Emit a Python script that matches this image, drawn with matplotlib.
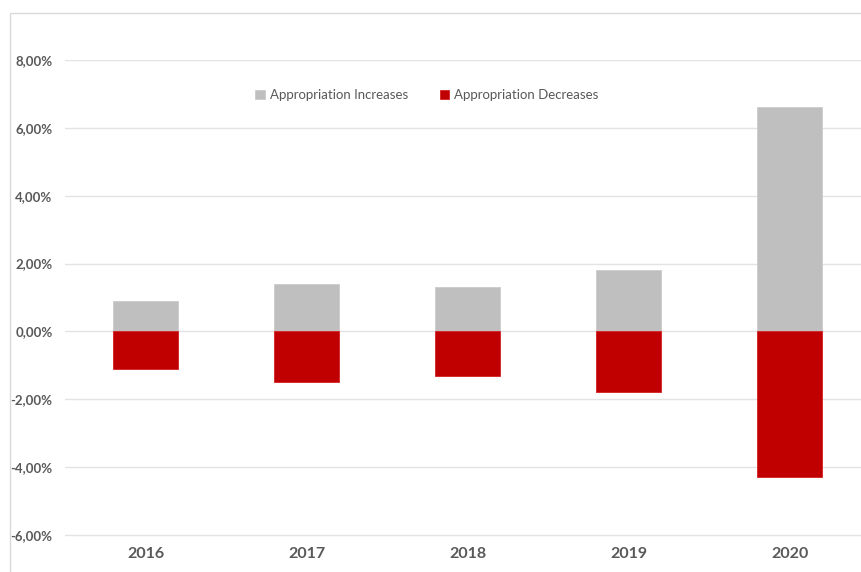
import matplotlib.pyplot as plt
from matplotlib.patches import Rectangle
from matplotlib.ticker import FuncFormatter

years = ['2016', '2017', '2018', '2019', '2020']
increases = [0.9, 1.4, 1.3, 1.8, 6.6]
decreases = [-1.1, -1.5, -1.3, -1.8, -4.3]
yticks = [-6, -4, -2, 0, 2, 4, 6, 8]

plt.rcParams['font.family'] = ['Lato', 'DejaVu Sans']
txt = '#595959'

fig = plt.figure(figsize=(8.62, 5.72), dpi=100)
# outer chart frame (cut off at the right and bottom, like the screenshot)
fig.patches.append(Rectangle((10 / 862, -0.1), 1.0, 1 - 13 / 572 + 0.1,
                             transform=fig.transFigure, fill=False,
                             edgecolor='#d9d9d9', linewidth=1))

ax = fig.add_axes([65 / 862, 1 - 537 / 572, 805 / 862, 477 / 572])
x = range(len(years))
ax.bar(x, increases, width=0.4, color='#bfbfbf', edgecolor='#cccccc',
       linewidth=0.6, label='Appropriation Increases', zorder=3)
ax.bar(x, decreases, width=0.4, color='#c00000', edgecolor='#d42020',
       linewidth=0.6, label='Appropriation Decreases', zorder=3)

ax.set_xlim(-0.5, 4.5)
ax.set_ylim(-6.06, 8)
ax.set_yticks(yticks)
ax.yaxis.set_major_formatter(FuncFormatter(lambda v, p: f'{v:.2f}%'.replace('.', ',')))
ax.set_xticks(list(x))
ax.set_xticklabels(years)
ax.grid(axis='y', color='#e3e3e3', linewidth=1, zorder=0)
for s in ax.spines.values():
    s.set_visible(False)
ax.tick_params(length=0)
ax.tick_params(axis='y', labelsize=9.5, labelcolor=txt, pad=9)
ax.tick_params(axis='x', labelsize=11.5, labelcolor=txt, pad=7)
for lab in ax.get_yticklabels() + ax.get_xticklabels():
    lab.set_fontweight('bold')

leg = ax.legend(loc='center', bbox_to_anchor=(427 / 862, 1 - 95 / 572),
                bbox_transform=fig.transFigure, ncol=2, frameon=False,
                fontsize=9.5, handlelength=0.7, handleheight=0.7,
                handletextpad=0.4, columnspacing=2.4)
for t in leg.get_texts():
    t.set_color(txt)

fig.savefig('out.png', dpi=100)
